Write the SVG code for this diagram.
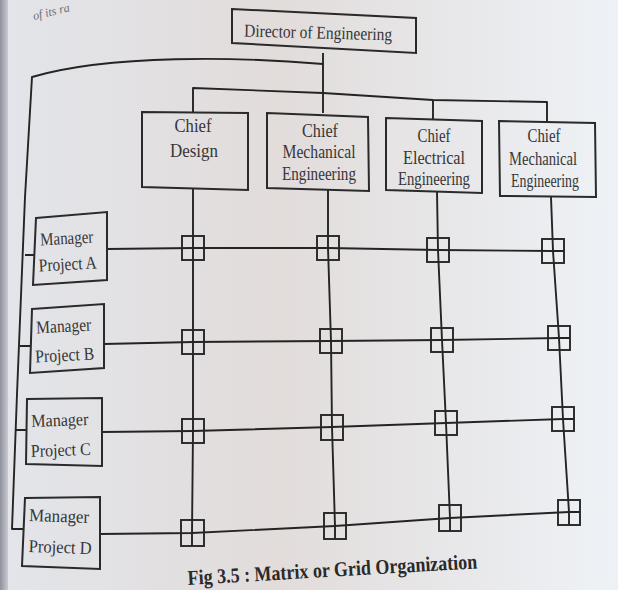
<svg xmlns="http://www.w3.org/2000/svg" width="618" height="590" viewBox="0 0 618 590">
  <defs>
    <linearGradient id="paper" x1="0" y1="0" x2="1" y2="0">
      <stop offset="0" stop-color="#e3e5ea"/>
      <stop offset="0.45" stop-color="#e2dcdb"/>
      <stop offset="0.75" stop-color="#e8e8ea"/>
      <stop offset="1" stop-color="#eef2f6"/>
    </linearGradient>
    <linearGradient id="edge" x1="0" y1="0" x2="1" y2="0">
      <stop offset="0" stop-color="#8e909c"/>
      <stop offset="1" stop-color="#c9cbd3"/>
    </linearGradient>
    <style>
      .box { fill: none; stroke: #2a2a2a; stroke-width: 2; stroke-linejoin: miter; }
      .wire { fill: none; stroke: #242424; stroke-width: 1.9; stroke-linejoin: round; }
      .cell { fill: none; stroke: #262626; stroke-width: 1.9; }
      .lbl { font-family: "Liberation Serif", "Times New Roman", serif; font-size: 18px; fill: #363636; text-anchor: middle; }
      .cap { font-family: "Liberation Serif", "Times New Roman", serif; font-size: 21px; font-weight: bold; fill: #2a2a2a; }
      .ghost { font-family: "Liberation Serif", "Times New Roman", serif; font-size: 12px; font-style: italic; fill: #6a6c74; }
    </style>
  </defs>

  <!-- page -->
  <rect x="0" y="0" width="618" height="590" fill="url(#paper)"/>
  <rect x="0" y="0" width="8" height="590" fill="url(#edge)"/>
  <text class="ghost" transform="translate(34,20) rotate(-14)">of its ra</text>

  <!-- connectors -->
  <g id="connectors">
    <!-- director to project managers -->
    <path class="wire" d="M323,64 C240,57 110,54 32,77 L25,197 L17,394 L12,529 L23,529"/>
    <path class="wire" d="M25,255 L34,255 M20,346 L31,346 M15,430 L27,430"/>
    <!-- director to chiefs -->
    <path class="wire" d="M323,53 L323,113"/>
    <polyline class="wire" points="193,112 193,88 323,93 433,100 547,102 547,122"/>
    <path class="wire" d="M433,100 L433,119"/>
    <!-- columns -->
    <polyline class="wire" points="193,189 193,248 193,342 193,431 192,533 192,546"/>
    <polyline class="wire" points="328,190 328,248 331,341 332,427 335,526 335,539"/>
    <polyline class="wire" points="437,192 438,250 442,340 446,423 450,518 450,531"/>
    <polyline class="wire" points="551,197 553,251 559,338 563,419 569,512 569,525"/>
    <!-- rows -->
    <polyline class="wire" points="107,249 193,248 328,248 438,250 553,251 564,251"/>
    <polyline class="wire" points="104,344 193,342 331,341 442,340 559,338 570,338"/>
    <polyline class="wire" points="102,432 193,431 332,427 446,423 563,419 574,419"/>
    <polyline class="wire" points="100,534 192,533 335,526 450,518 569,512 580,512"/>
  </g>

  <!-- grid crossings -->
  <g id="crossings">
    <rect class="cell" x="182" y="236" width="22" height="24"/>
    <rect class="cell" x="317" y="236" width="22" height="24"/>
    <rect class="cell" x="427" y="238" width="22" height="24"/>
    <rect class="cell" x="542" y="239" width="22" height="24"/>

    <rect class="cell" x="182" y="330" width="22" height="24"/>
    <rect class="cell" x="320" y="329" width="22" height="24"/>
    <rect class="cell" x="431" y="328" width="22" height="24"/>
    <rect class="cell" x="548" y="326" width="22" height="24"/>

    <rect class="cell" x="182" y="419" width="22" height="24"/>
    <rect class="cell" x="321" y="415" width="22" height="25"/>
    <rect class="cell" x="435" y="411" width="22" height="24"/>
    <rect class="cell" x="552" y="407" width="22" height="24"/>

    <rect class="cell" x="181" y="520" width="23" height="26"/>
    <rect class="cell" x="324" y="513" width="22" height="26"/>
    <rect class="cell" x="439" y="505" width="22" height="26"/>
    <rect class="cell" x="558" y="500" width="22" height="25"/>
  </g>

  <g id="director">
    <polygon class="box" points="232,9 416,18 416,53 232,43"/>
    <text class="lbl" x="318" y="38.5" font-size="19" textLength="148" lengthAdjust="spacingAndGlyphs" transform="rotate(1.5 318 38)">Director of Engineering</text>
  </g>

  <g id="chief-design">
    <polygon class="box" points="142,112 248,113 248,190 142,187"/>
    <text class="lbl" x="193" y="132" textLength="37" lengthAdjust="spacingAndGlyphs">Chief</text>
    <text class="lbl" x="194" y="157" textLength="48" lengthAdjust="spacingAndGlyphs">Design</text>
  </g>

  <g id="chief-mechanical-1">
    <polygon class="box" points="267,113 368,117 369,191 267,188"/>
    <text class="lbl" x="320" y="137" textLength="36" lengthAdjust="spacingAndGlyphs">Chief</text>
    <text class="lbl" x="319" y="158" textLength="73" lengthAdjust="spacingAndGlyphs">Mechanical</text>
    <text class="lbl" x="319" y="180" textLength="74" lengthAdjust="spacingAndGlyphs">Engineering</text>
  </g>

  <g id="chief-electrical">
    <polygon class="box" points="386,118 482,121 482,193 386,190"/>
    <text class="lbl" x="434" y="142" textLength="33" lengthAdjust="spacingAndGlyphs">Chief</text>
    <text class="lbl" x="434" y="164" textLength="62" lengthAdjust="spacingAndGlyphs">Electrical</text>
    <text class="lbl" x="434" y="185" textLength="72" lengthAdjust="spacingAndGlyphs">Engineering</text>
  </g>

  <g id="chief-mechanical-2">
    <polygon class="box" points="499,121 595,123 596,197 500,196"/>
    <text class="lbl" x="544" y="142" textLength="33" lengthAdjust="spacingAndGlyphs">Chief</text>
    <text class="lbl" x="543" y="165" textLength="68" lengthAdjust="spacingAndGlyphs">Mechanical</text>
    <text class="lbl" x="545" y="187" textLength="68" lengthAdjust="spacingAndGlyphs">Engineering</text>
  </g>

  <g id="manager-a">
    <polygon class="box" points="36,218 107,212 107,280 33,285"/>
    <text class="lbl" x="67" y="244" textLength="53" lengthAdjust="spacingAndGlyphs" transform="rotate(-3 67 244)">Manager</text>
    <text class="lbl" x="68" y="270" textLength="58" lengthAdjust="spacingAndGlyphs" transform="rotate(-3 68 270)">Project A</text>
  </g>

  <g id="manager-b">
    <polygon class="box" points="32,309 104,304 104,368 30,373"/>
    <text class="lbl" x="64" y="332" textLength="55" lengthAdjust="spacingAndGlyphs" transform="rotate(-3 64 332)">Manager</text>
    <text class="lbl" x="65" y="361" textLength="59" lengthAdjust="spacingAndGlyphs" transform="rotate(-3 65 361)">Project B</text>
  </g>

  <g id="manager-c">
    <polygon class="box" points="27,399 102,398 102,466 26,464"/>
    <text class="lbl" x="60" y="426" textLength="57" lengthAdjust="spacingAndGlyphs" transform="rotate(-2 60 426)">Manager</text>
    <text class="lbl" x="61" y="456" textLength="60" lengthAdjust="spacingAndGlyphs" transform="rotate(-2 61 456)">Project C</text>
  </g>

  <g id="manager-d">
    <polygon class="box" points="25,498 100,497 100,569 22,566"/>
    <text class="lbl" x="59" y="522" textLength="60" lengthAdjust="spacingAndGlyphs" transform="rotate(2 59 522)">Manager</text>
    <text class="lbl" x="60" y="553" textLength="63" lengthAdjust="spacingAndGlyphs" transform="rotate(2 60 553)">Project D</text>
  </g>

  <text class="cap" x="188" y="585" textLength="290" lengthAdjust="spacingAndGlyphs" transform="rotate(-3.3 188 585)">Fig 3.5 : Matrix or Grid Organization</text>
</svg>
